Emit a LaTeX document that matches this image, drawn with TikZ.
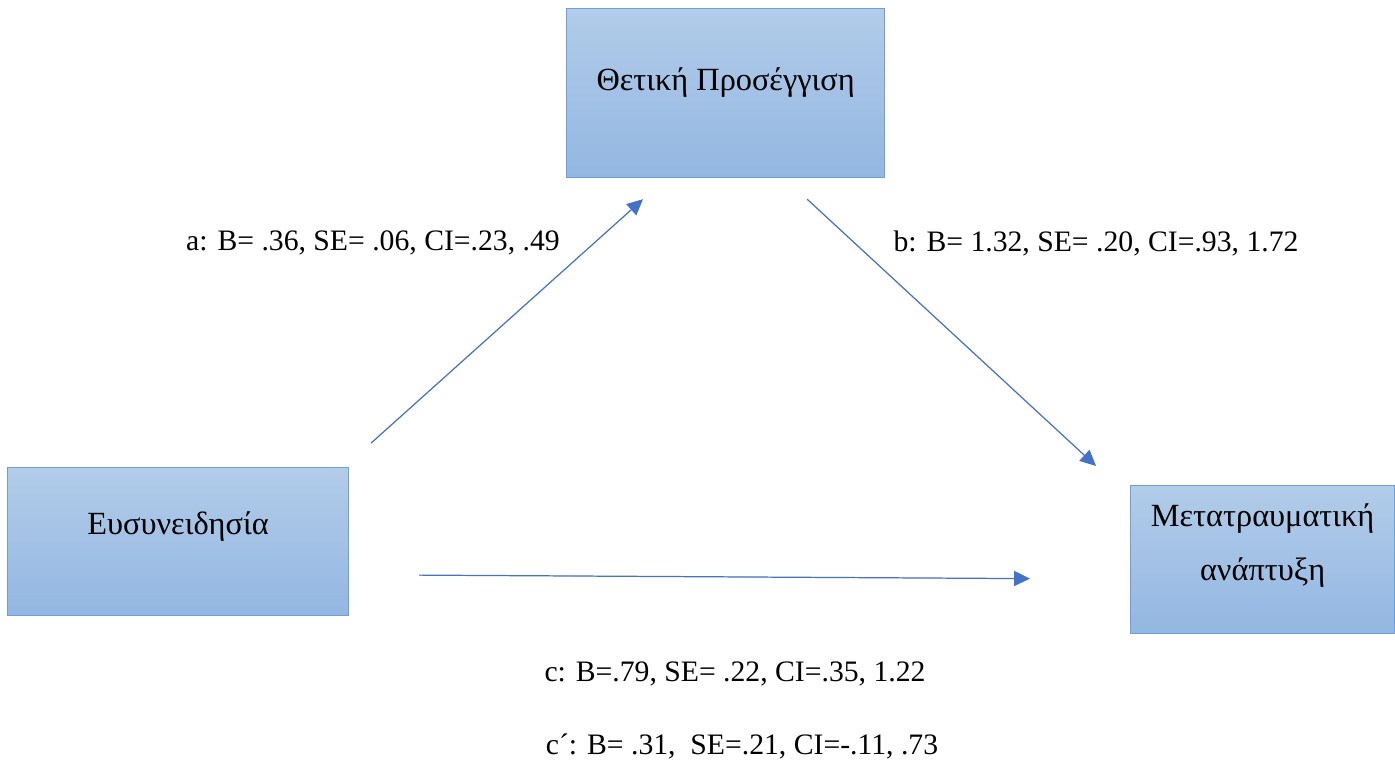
\documentclass[tikz,border=0pt]{standalone}
\usepackage{fontspec}
\setmainfont{Liberation Serif}
\usetikzlibrary{arrows.meta,calc,positioning}
\definecolor{boxtop}{HTML}{B2CCE9}
\definecolor{boxbot}{HTML}{93B7E2}
\definecolor{boxline}{HTML}{6C9FDB}
\definecolor{effblue}{HTML}{4472C4}

\begin{document}
\begin{tikzpicture}[x=0.02cm,y=-0.02cm,>={Triangle[length=9pt,width=8.5pt]},
    varbox/.style={rectangle,anchor=north west,top color=boxtop,bottom color=boxbot,draw=boxline,line width=0.7pt,font=\fontsize{18.4}{31}\selectfont,align=center,inner sep=0pt},
    effect/.style={->,draw=effblue,fill=effblue,line width=0.7pt},
    coef/.style={font=\fontsize{16.9}{20}\selectfont,inner sep=0pt}]
        \useasboundingbox (0,0) rectangle (1395,762);
        % variables
        \node[varbox,minimum width=6.36cm,minimum height=3.38cm,text height=14pt,text depth=17pt] (pos) at (566,8) {Θετική Προσέγγιση};
        \node[varbox,minimum width=6.82cm,minimum height=2.96cm,text height=14pt,text depth=22pt] (cons) at (7,467) {Ευσυνειδησία};
        \node[varbox,minimum width=5.28cm,minimum height=2.96cm,text depth=20pt] (grow) at (1130,485) {Μετατραυματική\\ανάπτυξη};
        % paths
        \coordinate (a0) at ($(cons.north east)+(22,-24)$);
        \coordinate (a1) at ($(pos.south west)+(77,21)$);
        \coordinate (b0) at ($(pos.south east)+(-78,21)$);
        \coordinate (b1) at ($(grow.north west)+(-34,-19)$);
        \coordinate (c0) at ($(cons.east)+(70,33.5)$);
        \coordinate (c1) at ($(grow.west)+(-100,19)$);
        \draw[effect] (a0) -- (a1);
        \draw[effect] (b0) -- (b1);
        \draw[effect] (c0) -- (c1);
        % coefficients
        \node[coef] (alab) at (373,243) {a: B= .36, SE= .06, CI=.23, .49};
        \node[coef] (blab) at (1096,243) {b: B= 1.32, SE= .20, CI=.93, 1.72};
        \node[coef] (clab) at (735,674) {c: B=.79, SE= .22, CI=.35, 1.22};
        \node[coef] (cplab) at (742,746) {c´: B= .31,~ SE=.21, CI=-.11, .73};
\end{tikzpicture}
\end{document}
